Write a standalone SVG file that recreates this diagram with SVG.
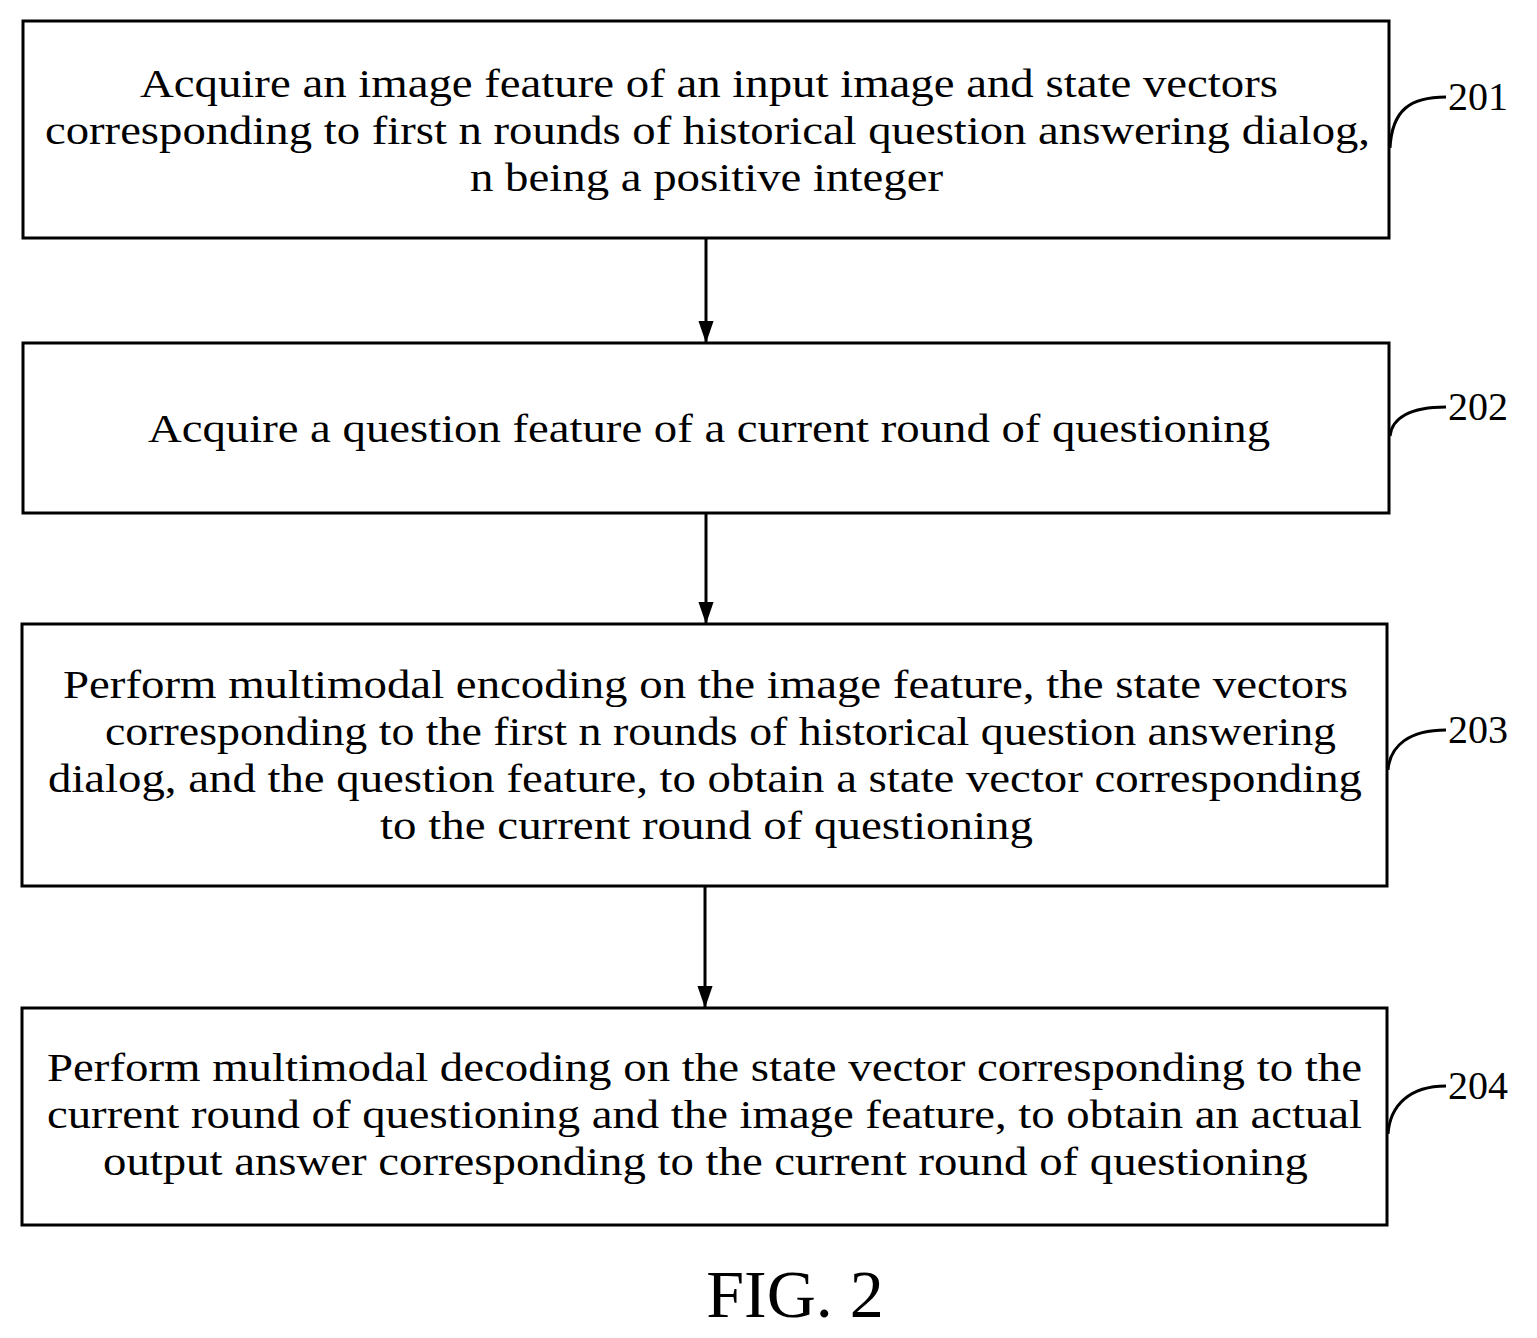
<svg xmlns="http://www.w3.org/2000/svg" width="1537" height="1338" viewBox="0 0 1537 1338">
<style>
.box{fill:#fff;stroke:#000;stroke-width:3}
.t{font-family:"Liberation Serif",serif;font-size:41px;fill:#000}
.lbl{font-family:"Liberation Serif",serif;font-size:40px;fill:#000}
.c{fill:none;stroke:#000;stroke-width:3}
</style>
<defs>
<marker id="a" markerWidth="22" markerHeight="32" refX="32" refY="11" orient="auto" markerUnits="userSpaceOnUse" viewBox="0 0 32 22"><path d="M0,0L32,11L0,22z"/></marker></defs>
<rect width="1537" height="1338" fill="#fff"/>
<g id="n201"><rect class="box" x="23" y="21" width="1366" height="217"/>
<text class="t" x="140" y="97" textLength="1138" lengthAdjust="spacingAndGlyphs">Acquire an image feature of an input image and state vectors</text>
<text class="t" x="45" y="144" textLength="1325" lengthAdjust="spacingAndGlyphs">corresponding to first n rounds of historical question answering dialog,</text>
<text class="t" x="470" y="191" textLength="473" lengthAdjust="spacingAndGlyphs">n being a positive integer</text>
<path class="c" d="M1390,148 C1392,110 1410,97 1446,97"/><text class="lbl" x="1448" y="110">201</text></g>
<g id="n202"><rect class="box" x="23" y="343" width="1366" height="170"/>
<text class="t" x="148" y="442" textLength="1122" lengthAdjust="spacingAndGlyphs">Acquire a question feature of a current round of questioning</text>
<path class="c" d="M1390,436 C1392,418 1410,407 1446,407"/><text class="lbl" x="1448" y="420">202</text></g>
<g id="n203"><rect class="box" x="22" y="624" width="1365" height="262"/>
<text class="t" x="63" y="698" textLength="1285" lengthAdjust="spacingAndGlyphs">Perform multimodal encoding on the image feature, the state vectors</text>
<text class="t" x="105" y="745" textLength="1231" lengthAdjust="spacingAndGlyphs">corresponding to the first n rounds of historical question answering</text>
<text class="t" x="48" y="792" textLength="1314" lengthAdjust="spacingAndGlyphs">dialog, and the question feature, to obtain a state vector corresponding</text>
<text class="t" x="380" y="839" textLength="653" lengthAdjust="spacingAndGlyphs">to the current round of questioning</text>
<path class="c" d="M1388,770 C1390,745 1410,730 1446,730"/><text class="lbl" x="1448" y="743">203</text></g>
<g id="n204"><rect class="box" x="22" y="1008" width="1365" height="217"/>
<text class="t" x="47" y="1081" textLength="1315" lengthAdjust="spacingAndGlyphs">Perform multimodal decoding on the state vector corresponding to the</text>
<text class="t" x="47" y="1128" textLength="1315" lengthAdjust="spacingAndGlyphs">current round of questioning and the image feature, to obtain an actual</text>
<text class="t" x="103" y="1175" textLength="1205" lengthAdjust="spacingAndGlyphs">output answer corresponding to the current round of questioning</text>
<path class="c" d="M1388,1134 C1390,1105 1410,1086 1446,1086"/><text class="lbl" x="1448" y="1099">204</text></g>
<g id="connectors">
<line class="c" x1="706" y1="238" x2="706" y2="343" marker-end="url(#a)"/>
<line class="c" x1="706" y1="513" x2="706" y2="624" marker-end="url(#a)"/>
<line class="c" x1="705" y1="886" x2="705" y2="1008" marker-end="url(#a)"/>
</g>
<text x="795" y="1317" style="font-family:'Liberation Serif',serif;font-size:68px;text-anchor:middle">FIG. 2</text>
</svg>
